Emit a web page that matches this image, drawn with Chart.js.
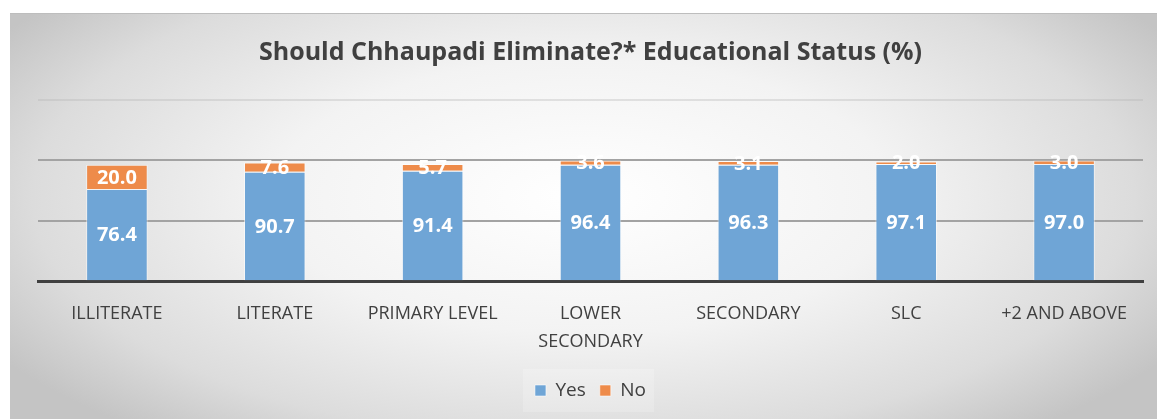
<!DOCTYPE html>
<html>
<head>
<meta charset="utf-8">
<script src="https://cdn.jsdelivr.net/npm/chart.js@4"></script>
<style>
  html, body { margin: 0; padding: 0; background: #fff; }
  #frame {
    position: absolute; left: 10px; top: 13px; width: 1147px; height: 406px;
    border-top: 1px solid #bdbdbd;
    background: radial-gradient(ellipse 60% 75% at 50% 45%, #ffffff 0%, #f3f3f3 45%, #dcdcdc 80%, #c4c4c4 100%);
  }
  #wrap { position: absolute; left: 0; top: 0; width: 1147px; height: 405px; }
</style>
</head>
<body>
<div id="frame"><div id="wrap"><canvas id="chart"></canvas></div></div>
<script>
const categories = ['ILLITERATE', 'LITERATE', 'PRIMARY LEVEL', ['LOWER', 'SECONDARY'], 'SECONDARY', 'SLC', '+2 AND ABOVE'];
const yesValues = [76.4, 90.7, 91.4, 96.4, 96.3, 97.1, 97.0];
const noValues = [20.0, 7.6, 5.7, 3.6, 3.1, 2.0, 3.0];
const titleText = 'Should Chhaupadi Eliminate?* Educational Status (%)';

const FONT = "'Open Sans', 'Liberation Sans', sans-serif";

// white value labels centred in each segment
const segmentLabels = {
  id: 'segmentLabels',
  afterDatasetsDraw(chart) {
    const ctx = chart.ctx;
    ctx.save();
    ctx.fillStyle = '#ffffff';
    ctx.font = `bold 20px ${FONT}`;
    ctx.textAlign = 'center';
    ctx.textBaseline = 'middle';
    chart.data.datasets.forEach((ds, i) => {
      chart.getDatasetMeta(i).data.forEach((bar, j) => {
        const y = (bar.y + bar.base) / 2;
        ctx.fillText(ds.data[j].toFixed(1), bar.x, y + 1);
      });
    });
    ctx.restore();
  }
};

// faint lighter panel behind the legend, like the Excel original
const legendPanel = {
  id: 'legendPanel',
  beforeDraw(chart) {
    const boxes = chart.legend && chart.legend.legendHitBoxes;
    if (!boxes || !boxes.length) return;
    const l = Math.min(...boxes.map(b => b.left)) - 12;
    const r = Math.max(...boxes.map(b => b.left + b.width)) + 8;
    const t = Math.min(...boxes.map(b => b.top)) - 12;
    const h = boxes[0].height + 24;
    const ctx = chart.ctx;
    ctx.save();
    ctx.fillStyle = 'rgba(255,255,255,0.2)';
    ctx.fillRect(l, t, r - l, h);
    ctx.restore();
  }
};

new Chart(document.getElementById('chart'), {
  type: 'bar',
  data: {
    labels: categories,
    datasets: [
      { label: 'Yes', data: yesValues, backgroundColor: '#6fa5d6', borderColor: 'rgba(255,255,255,0.55)', borderWidth: 1 },
      { label: 'No', data: noValues, backgroundColor: '#ee8b4a', borderColor: 'rgba(255,255,255,0.55)', borderWidth: 1 }
    ]
  },
  options: {
    responsive: true,
    maintainAspectRatio: false,
    animation: false,
    layout: { padding: { left: 28, right: 14, top: 16, bottom: 9 } },
    datasets: { bar: { categoryPercentage: 1, barPercentage: 0.39 } },
    scales: {
      x: {
        stacked: true,
        grid: { display: false },
        border: { color: '#404040', width: 3 },
        ticks: { color: '#404040', font: { family: FONT, size: 18, lineHeight: 1.55 }, maxRotation: 0, autoSkip: false, padding: 11 }
      },
      y: {
        stacked: true,
        min: 0, max: 150,
        ticks: { display: false, stepSize: 50 },
        border: { display: false },
        grid: {
          drawTicks: false,
          lineWidth: 2,
          color: c => c.tick.value === 0 ? 'rgba(0,0,0,0)' : (c.tick.value === 150 ? 'rgba(180,180,180,0.35)' : '#a3a3a3')
        }
      }
    },
    plugins: {
      title: {
        display: true, text: titleText, color: '#404040',
        font: { family: FONT, size: 25, weight: 'bold' },
        padding: { top: 8, bottom: 32 }
      },
      legend: {
        position: 'bottom',
        labels: { color: '#404040', font: { family: FONT, size: 19 }, boxWidth: 11, boxHeight: 11, padding: 14 }
      },
      tooltip: { enabled: false }
    }
  },
  plugins: [legendPanel, segmentLabels]
});
</script>
</body>
</html>
